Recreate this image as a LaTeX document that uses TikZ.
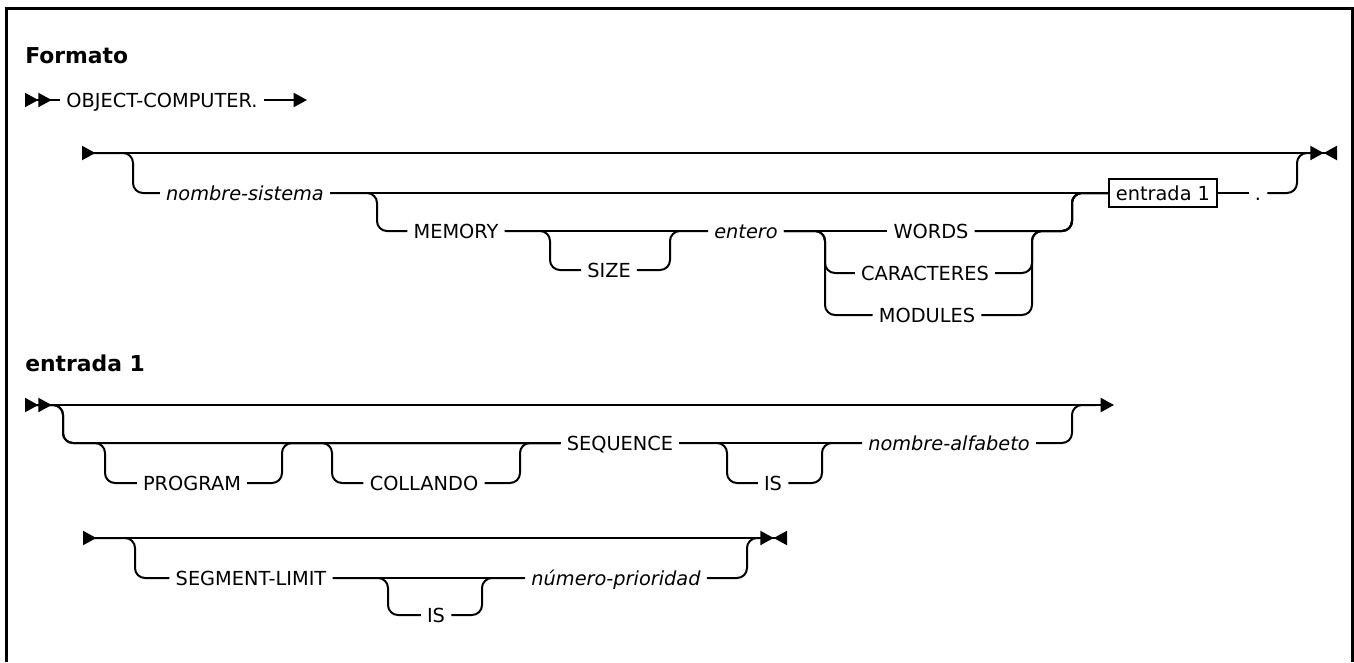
\documentclass[tikz,border=0pt]{standalone}
\usepackage{fontspec}
\setmainfont{DejaVu Sans}
\usetikzlibrary{arrows.meta, positioning}
\newcommand{\kwsize}{\fontsize{14.5}{17}\selectfont}
\newcommand{\hdsize}{\fontsize{16.4}{20}\selectfont\bfseries}
\tikzset{
  rtip/.tip={Triangle[length=10pt, width=10.5pt]},
  rback/.tip={Triangle[reversed, length=10pt, width=10.5pt]}
}

\begin{document}
\begin{tikzpicture}[x=0.75pt, y=-0.75pt,
  track/.style={line width=1.5pt, rounded corners=7.5pt},
  kw/.style={font=\kwsize, inner xsep=4.5pt, inner ysep=0pt,
             text height=10.6pt, text depth=0pt},
  var/.style={kw, font=\kwsize\itshape},
  head/.style={font=\hdsize, anchor=base west, inner sep=0pt},
  refbox/.style={kw, draw, line width=1.2pt, minimum width=81pt, minimum height=21pt}]
  \useasboundingbox (0,0) rectangle (1354,662);
  % Frame
  \draw[line width=2.25pt] (6.7,662) -- (6.7,8.7) -- (1352.5,8.7) -- (1352.5,662);
  % Formato
  \node[head] (fmt) at (25,63) {Formato};
  \node[kw] (ocomp) at (162,100) {OBJECT-COMPUTER.};
  \coordinate (sA) at (25,100);
  \coordinate (eA) at (307,100);
  \draw[track, {rback[]rback[]}-] (sA) -- (ocomp.west);
  \draw[track, -{rtip[]}] (ocomp.east) -- (eA);
  % Paragraph entries
  \coordinate (sB) at (82,153);
  \coordinate (eB) at (1337,153);
  \draw[track, {rback[]}-{rtip[]rback[]}] (sB) -- (eB);
  \node[var] (nsis) at (245,193) {nombre-sistema};
  \node[kw] (mem) at (456,231) {MEMORY};
  \node[kw] (size) at (609,270) {SIZE};
  \node[var] (ent) at (746,231) {entero};
  \node[kw] (words) at (931,231) {WORDS};
  \node[kw] (cara) at (925,273) {CARACTERES};
  \node[kw] (mod) at (927,315) {MODULES};
  \node[refbox] (box1) at (1163,193) {entrada 1};
  \node[kw] (dot) at (1258,193) {.};
  \coordinate (j0) at (133,193);
  \coordinate (j1) at (377,231);
  \coordinate (j2) at (550,270);
  \coordinate (j3) at (670,231);
  \coordinate (j4) at (825,273);
  \coordinate (j5) at (825,315);
  \coordinate (j6) at (1072,193);
  \coordinate (j7) at (1032,231);
  \coordinate (j8) at (1297,153);
  \coordinate (tB) at (1310,153);
  \draw[track] (sB) -| (j0) -- (nsis.west);
  \draw[track] (nsis.east) -- (box1.west);
  \draw[track] (nsis.east) -| (j1) -- (mem.west);
  \draw[track] (mem.east) -- (ent.west);
  \draw[track] (mem.east) -| (j2) -- (size.west);
  \draw[track] (size.east) -| (j3) -- (ent.west);
  \draw[track] (ent.east) -- (words.west);
  \draw[track] (ent.east) -| (j4) -- (cara.west);
  \draw[track] (ent.east) -| (j5) -- (mod.west);
  \draw[track] (words.east) -| (j6) -- (box1.west);
  \draw[track] (cara.east) -| (j7) -| (j6) -- (box1.west);
  \draw[track] (mod.east) -| (j7) -| (j6) -- (box1.west);
  \draw[track] (box1.east) -- (dot.west);
  \draw[track] (dot.east) -| (j8) -- (tB);
  % entrada 1
  \node[head] (ent1) at (25,371) {entrada 1};
  \coordinate (sD) at (25,405);
  \coordinate (eD) at (1114,405);
  \draw[track, {rback[]rback[]}-{rtip[]}] (sD) -- (eD);
  \node[kw] (prog) at (192,483) {PROGRAM};
  \node[kw] (coll) at (424,483) {COLLANDO};
  \node[kw] (seq) at (620,443) {SEQUENCE};
  \node[kw] (is1) at (773,483) {IS};
  \node[var] (nalf) at (949,443) {nombre-alfabeto};
  \coordinate (k0) at (63,443);
  \coordinate (pIn) at (105,483);
  \coordinate (pOut) at (282,443);
  \coordinate (cIn) at (332,483);
  \coordinate (cOut) at (520,443);
  \coordinate (iIn) at (727,483);
  \coordinate (iOut) at (822,443);
  \coordinate (kE) at (1072,405);
  \coordinate (tD) at (1096,405);
  \draw[track] (sD) -| (k0) -- (seq.west);
  \draw[track] (sD) -| (k0) -| (pIn) -- (prog.west);
  \draw[track] (prog.east) -| (pOut) -- (seq.west);
  \draw[track] (pOut) -| (cIn) -- (coll.west);
  \draw[track] (coll.east) -| (cOut) -- (seq.west);
  \draw[track] (seq.east) -- (nalf.west);
  \draw[track] (seq.east) -| (iIn) -- (is1.west);
  \draw[track] (is1.east) -| (iOut) -- (nalf.west);
  \draw[track] (nalf.east) -| (kE) -- (tD);
  % Segment limit
  \coordinate (sE) at (83,538);
  \coordinate (eE) at (787,538);
  \draw[track, {rback[]}-{rtip[]rback[]}] (sE) -- (eE);
  \node[kw] (seg) at (251,578) {SEGMENT-LIMIT};
  \node[kw] (is2) at (436,615) {IS};
  \node[var] (nprio) at (616,578) {número-prioridad};
  \coordinate (gIn) at (135,578);
  \coordinate (sIn) at (388,615);
  \coordinate (sOut) at (482,578);
  \coordinate (gOut) at (747,538);
  \coordinate (tE) at (760,538);
  \draw[track] (sE) -| (gIn) -- (seg.west);
  \draw[track] (seg.east) -- (nprio.west);
  \draw[track] (seg.east) -| (sIn) -- (is2.west);
  \draw[track] (is2.east) -| (sOut) -- (nprio.west);
  \draw[track] (nprio.east) -| (gOut) -- (tE);
\end{tikzpicture}
\end{document}
